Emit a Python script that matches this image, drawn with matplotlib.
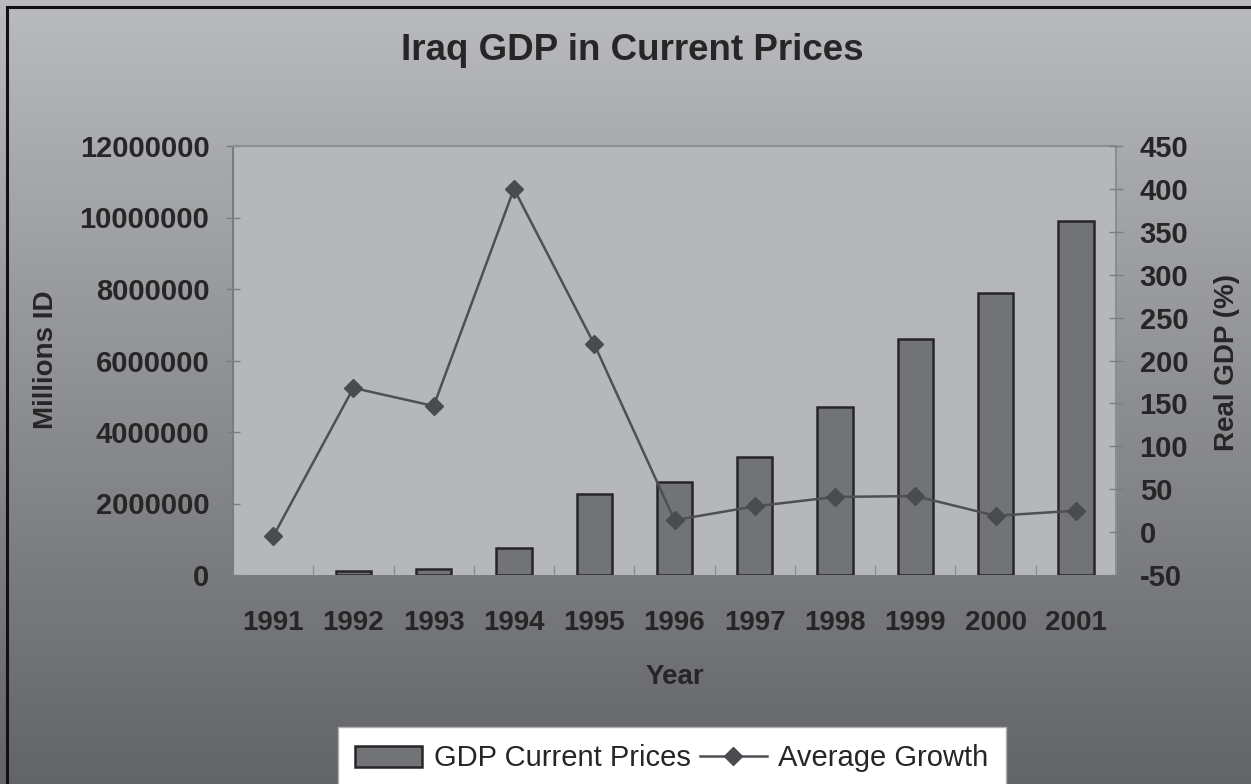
import matplotlib
matplotlib.use("Agg")
import matplotlib.pyplot as plt
from matplotlib.lines import Line2D
import numpy as np

plt.rcParams["font.family"] = ["Liberation Sans", "DejaVu Sans"]
plt.rcParams["axes.unicode_minus"] = False

# Data (1991 bar not visible -> nan)
years = ["1991", "1992", "1993", "1994", "1995", "1996",
         "1997", "1998", "1999", "2000", "2001"]
gdp_current = [np.nan, 100000, 170000, 750000, 2260000, 2600000,
               3300000, 4690000, 6600000, 7900000, 9890000]
avg_growth = [-5, 168, 147, 400, 219, 14, 30, 41, 42, 19, 25]

W, H = 1251, 784
text_color = "#262626"


def main():
    fig = plt.figure(figsize=(W / 100, H / 100), dpi=100)

    # gradient background (light on top, darker toward the bottom)
    bg = fig.add_axes([0, 0, 1, 1], zorder=-10)
    grad = np.linspace(0, 1, 256).reshape(-1, 1)
    top = np.array([0xba, 0xbb, 0xbf]) / 255
    bot = np.array([0x63, 0x64, 0x68]) / 255
    img = top + (bot - top) * grad[:, :, None]
    bg.imshow(img, aspect="auto", extent=[0, 1, 0, 1])
    bg.set_axis_off()

    # black frame on left and top edges
    fig.add_artist(Line2D([7 / W, 7 / W], [0, 1 - 7 / H], color="#111111",
                          lw=2.2, transform=fig.transFigure))
    fig.add_artist(Line2D([7 / W, 1], [1 - 7 / H, 1 - 7 / H], color="#111111",
                          lw=2.2, transform=fig.transFigure))

    ax = fig.add_axes([233 / W, 1 - 575 / H, (1116 - 233) / W, (575 - 146) / H])
    ax.set_facecolor("#b6b7bb")

    x = np.arange(len(years))
    bars = ax.bar(x, gdp_current, width=0.44, color="#727377",
                  edgecolor="#262626", linewidth=1.8,
                  label="GDP Current Prices")

    ax.set_xlim(-0.5, len(years) - 0.5)
    ax.set_ylim(0, 12000000)
    ax.set_yticks(np.arange(0, 12000001, 2000000))
    ax.set_yticklabels([f"{v}" for v in range(0, 12000001, 2000000)])
    ax.set_xticks(x)
    ax.set_xticklabels(years)
    ax.set_xticks(np.arange(0.5, len(years) - 1, 1), minor=True)

    ax.tick_params(axis="x", which="major", length=0, pad=25,
                   labelsize=20, labelcolor=text_color)
    ax.tick_params(axis="x", which="minor", direction="in", length=7,
                   color="#8e8f93", width=1)
    ax.tick_params(axis="y", direction="inout", length=10, width=1,
                   color="#7c7d81", pad=12, labelsize=21,
                   labelcolor=text_color)
    for lbl in ax.get_xticklabels() + ax.get_yticklabels():
        lbl.set_fontweight("bold")

    ax.spines["bottom"].set_visible(False)
    ax.spines["left"].set_color("#7a7b7f")
    ax.spines["top"].set_color("#8c8d91")
    ax.spines["right"].set_color("#8c8d91")
    for s in ax.spines.values():
        s.set_linewidth(1.5)

    # secondary axis for growth
    ax2 = ax.twinx()
    line, = ax2.plot(x, avg_growth, color="#4f5053", lw=1.8, marker="D",
                     markersize=9, markerfacecolor="#4a4b4e",
                     markeredgecolor="#4a4b4e", label="Average Growth")
    ax2.set_ylim(-50, 450)
    ax2.set_yticks(np.arange(-50, 451, 50))
    ax2.tick_params(axis="y", direction="inout", length=10, width=1,
                    color="#7c7d81", pad=12, labelsize=21,
                    labelcolor=text_color)
    for lbl in ax2.get_yticklabels():
        lbl.set_fontweight("bold")
    for s in ax2.spines.values():
        s.set_visible(False)

    # titles and axis labels
    fig.text(632 / W, 1 - 50 / H, "Iraq GDP in Current Prices",
             ha="center", va="center", fontsize=26.5, fontweight="bold",
             color=text_color)
    fig.text(46 / W, 1 - 360 / H, "Millions ID", rotation=90,
             ha="center", va="center", fontsize=20, fontweight="bold",
             color=text_color)
    fig.text(1227 / W, 1 - 362 / H, "Real GDP (%)", rotation=90,
             ha="center", va="center", fontsize=20, fontweight="bold",
             color=text_color)
    fig.text(675 / W, 1 - 677 / H, "Year", ha="center", va="center",
             fontsize=20, fontweight="bold", color=text_color)

    leg = fig.legend([bars, line], ["GDP Current Prices", "Average Growth"],
                     loc="upper center", bbox_to_anchor=(672 / W, 1 - 727 / H),
                     ncol=2, fontsize=21, frameon=True, fancybox=False,
                     handlelength=2.3, handletextpad=0.4, columnspacing=0.3,
                     borderpad=0.6, borderaxespad=0)
    leg.get_frame().set_facecolor("white")
    leg.get_frame().set_edgecolor("#b0b0b0")
    leg.get_frame().set_alpha(1)
    for t in leg.get_texts():
        t.set_color(text_color)

    plt.savefig("out.png", dpi=100)


main()
